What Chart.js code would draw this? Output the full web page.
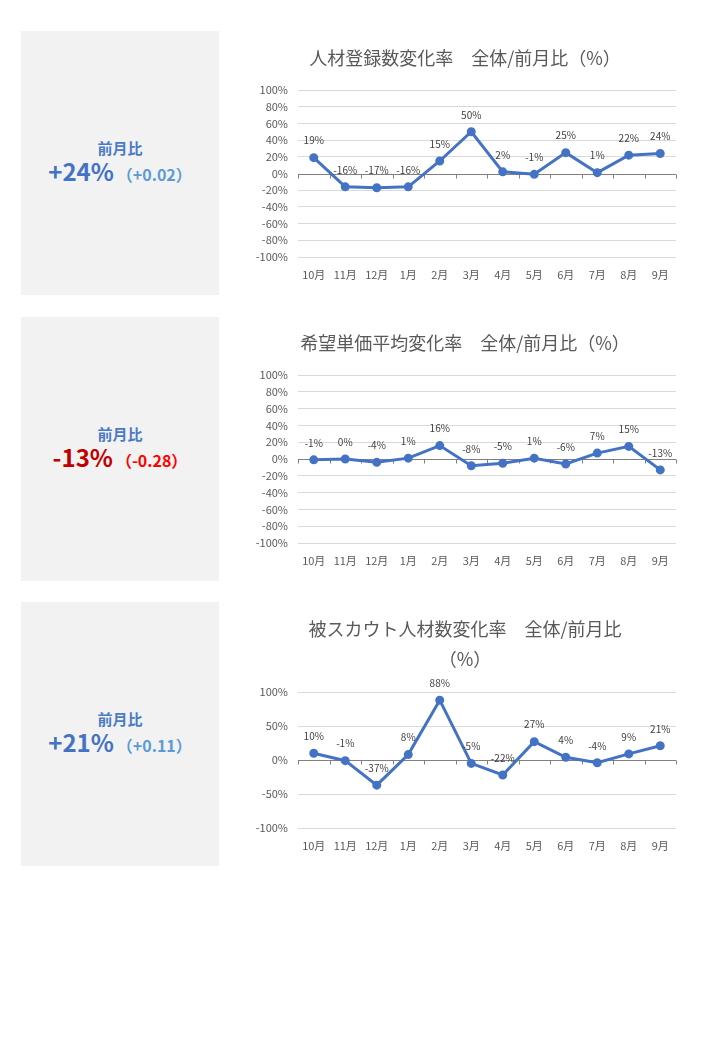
<!DOCTYPE html>
<html lang="ja">
<head>
<meta charset="utf-8">
<script src="https://cdn.jsdelivr.net/npm/chart.js@4.4.0/dist/chart.umd.min.js"></script>
<style>
  body { margin: 0; background: #fff; font-family: "Noto Sans CJK JP", "Noto Sans", sans-serif; }
  .page { position: relative; width: 720px; height: 1040px; }
  .row { position: absolute; left: 0; width: 720px; height: 264px; }
  .panel {
    position: absolute; left: 21px; top: 0; width: 198px; height: 100%;
    background: #f2f2f2;
    display: flex; flex-direction: column; align-items: center; justify-content: center;
  }
  .panel .cap { font-size: 15px; font-weight: bold; color: #4a7bc4; line-height: 19px; }
  .panel .val { line-height: 28px; font-weight: bold; white-space: nowrap; }
  .panel .big { font-size: 24px; margin-right: 3px; }
  .panel .small { font-size: 16px; }
  .up .big { color: #4472c4; }
  .up .small { color: #5b9bd5; }
  .down .big { color: #c00000; }
  .down .small { color: #ff0000; }
  .chartbox { position: absolute; left: 230px; top: 0; width: 460px; height: 264px; }
</style>
</head>
<body>
<div class="page">
  <div class="row" style="top:31px">
    <div class="panel up">
      <div class="cap">前月比</div>
      <div class="val"><span class="big">+24%</span><span class="small">（+0.02）</span></div>
    </div>
    <div class="chartbox"><canvas id="c1" width="460" height="264"></canvas></div>
  </div>
  <div class="row" style="top:317px">
    <div class="panel down">
      <div class="cap">前月比</div>
      <div class="val"><span class="big">-13%</span><span class="small">（-0.28）</span></div>
    </div>
    <div class="chartbox"><canvas id="c2" width="460" height="264"></canvas></div>
  </div>
  <div class="row" style="top:602px">
    <div class="panel up">
      <div class="cap">前月比</div>
      <div class="val"><span class="big">+21%</span><span class="small">（+0.11）</span></div>
    </div>
    <div class="chartbox"><canvas id="c3" width="460" height="264"></canvas></div>
  </div>
</div>
<script>
const months = ['10月', '11月', '12月', '1月', '2月', '3月', '4月', '5月', '6月', '7月', '8月', '9月'];

// 前月比 (%)
const registrationRates = [19, -16, -17, -16, 15, 50, 2, -1, 25, 1, 22, 24];
const priceRates = [-1, 0, -4, 1, 16, -8, -5, 1, -6, 7, 15, -13];
const scoutRates = [10, -1, -37, 8, 88, -5, -22, 27, 4, -4, 9, 21];

const FONT = '"Noto Sans CJK JP", "Noto Sans", sans-serif';
const BLUE = '#4472c4';

// 0% のライン（軸）と目盛り
const zeroAxis = {
    id: 'zeroAxis',
    beforeDatasetsDraw(chart) {
        const { ctx, chartArea, scales: { x, y } } = chart;
        const y0 = Math.round(y.getPixelForValue(0)) + 0.5;
        const step = x.getPixelForValue(1) - x.getPixelForValue(0);
        const start = x.getPixelForValue(0) - step / 2;
        ctx.save();
        ctx.strokeStyle = '#808080';
        ctx.lineWidth = 1;
        ctx.beginPath();
        ctx.moveTo(chartArea.left, y0);
        ctx.lineTo(chartArea.right, y0);
        for (let i = 0; i <= months.length; i++) {
            const px = Math.round(start + i * step) + 0.5;
            ctx.moveTo(px, y0);
            ctx.lineTo(px, y0 + 4);
        }
        ctx.stroke();
        ctx.restore();
    }
};

// データラベル（点の上）
const pointLabels = {
    id: 'pointLabels',
    afterDatasetsDraw(chart) {
        const { ctx } = chart;
        const values = chart.data.datasets[0].data;
        ctx.save();
        ctx.font = '10px ' + FONT;
        ctx.fillStyle = '#404040';
        ctx.textAlign = 'center';
        ctx.textBaseline = 'middle';
        chart.getDatasetMeta(0).data.forEach((pt, i) => {
            ctx.fillText(values[i] + '%', pt.x, pt.y - 17);
        });
        ctx.restore();
    }
};

function makeChart(id, title, values, step, titlePad) {
    return new Chart(document.getElementById(id), {
        type: 'line',
        data: {
            labels: months,
            datasets: [{
                data: values,
                borderColor: BLUE,
                backgroundColor: BLUE,
                borderWidth: 3,
                pointRadius: 3,
                pointBackgroundColor: BLUE,
                pointBorderColor: BLUE,
                tension: 0,
            }],
        },
        options: {
            responsive: false,
            animation: false,
            layout: { padding: { left: 24, right: 14, top: 0, bottom: 0 } },
            plugins: {
                legend: { display: false },
                tooltip: { enabled: false },
                title: {
                    display: true,
                    text: title,
                    color: '#595959',
                    font: { family: FONT, size: 18, weight: 'normal', lineHeight: '30px' },
                    padding: titlePad,
                },
            },
            scales: {
                x: {
                    offset: true,
                    grid: { display: false, drawTicks: false },
                    border: { display: false },
                    ticks: { color: '#595959', font: { family: FONT, size: 11 }, padding: 11, maxRotation: 0 },
                    afterFit: (s) => { s.height = 38; },
                },
                y: {
                    min: -100,
                    max: 100,
                    grid: {
                        drawTicks: false,
                        color: (c) => (c.tick && c.tick.value === 0 ? 'rgba(0,0,0,0)' : '#d9d9d9'),
                    },
                    border: { display: false },
                    ticks: {
                        stepSize: step,
                        color: '#595959',
                        font: { family: FONT, size: 11 },
                        padding: 10,
                        callback: (v) => v + '%',
                    },
                    afterFit: (s) => { s.width = 44; },
                },
            },
        },
        plugins: [zeroAxis, pointLabels],
    });
}

makeChart('c1', '人材登録数変化率　全体/前月比（%）', registrationRates, 20, { top: 12, bottom: 17 });
makeChart('c2', '希望単価平均変化率　全体/前月比（%）', priceRates, 20, { top: 11, bottom: 17 });
makeChart('c3', ['被スカウト人材数変化率　全体/前月比', '（%）'], scoutRates, 50, { top: 12, bottom: 18 });
</script>
</body>
</html>
